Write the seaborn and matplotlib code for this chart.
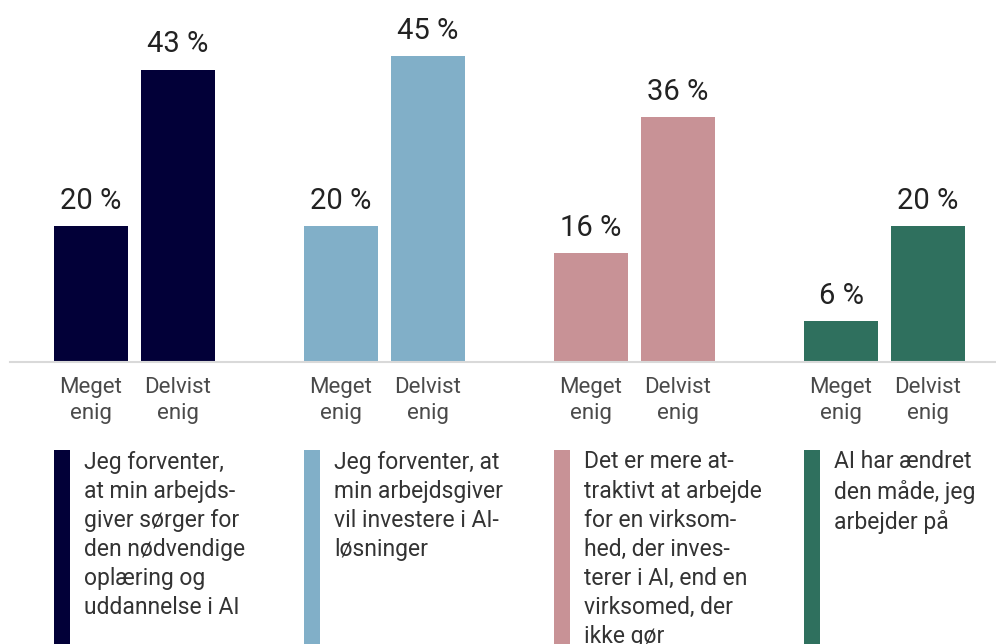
import matplotlib
matplotlib.use("Agg")
import matplotlib.pyplot as plt
from matplotlib.patches import Rectangle
import seaborn as sns
import pandas as pd

# ---- data ----
statements = [
    "Jeg forventer,\nat min arbejds-\ngiver sørger for\nden nødvendige\noplæring og\nuddannelse i AI",
    "Jeg forventer, at\nmin arbejdsgiver\nvil investere i AI-\nløsninger",
    "Det er mere at-\ntraktivt at arbejde\nfor en virksom-\nhed, der inves-\nterer i AI, end en\nvirksomed, der\nikke gør",
    "AI har ændret\nden måde, jeg\narbejder på",
]
answers = ["Meget\nenig", "Delvist\nenig"]
meget_enig = [20, 20, 16, 6]
delvist_enig = [43, 45, 36, 20]
colors = ["#020038", "#81AFC8", "#C89296", "#2F705E"]

groups = [f"G{i+1}" for i in range(len(statements))]
df = pd.DataFrame({
    "group": groups * 2,
    "answer": [answers[0]] * 4 + [answers[1]] * 4,
    "value": meget_enig + delvist_enig,
})

sns.set_theme(style="white")
plt.rcParams["font.family"] = ["Roboto", "DejaVu Sans"]

W, H = 996, 644
fig = plt.figure(figsize=(W / 100, H / 100), dpi=100)
ax = fig.add_axes([10 / W, (H - 362) / H, 986 / W, 340 / H])

sns.barplot(data=df, x="group", y="value", hue="answer", order=groups,
            hue_order=answers, width=0.696, gap=0.149, saturation=1,
            legend=False, ax=ax, errorbar=None)

ax.set_xlim(-0.498, 3.446)
ax.set_ylim(0, 50)

ticks, labels = [], []
meget_left = {}
for i, p in enumerate(ax.patches):
    c = p.get_x() + p.get_width() / 2
    gi = int(round(c))
    p.set_facecolor(colors[gi])
    p.set_edgecolor("none")
    h = p.get_height()
    ax.annotate(f"{h:.0f} %", (c, h), xytext=(0, 8), textcoords="offset points",
                ha="center", va="bottom", fontsize=21, color="#222222")
    ticks.append(c)
    labels.append(answers[0] if c < gi else answers[1])
    if c < gi:
        meget_left[gi] = p.get_x()

ax.set_xticks(ticks)
ax.set_xticklabels(labels, fontsize=16, color="#4a4a4a", linespacing=1.36)
ax.tick_params(axis="x", length=0, pad=10.5)
ax.set_yticks([])
ax.set_xlabel("")
ax.set_ylabel("")
for s in ["top", "right", "left"]:
    ax.spines[s].set_visible(False)
ax.spines["bottom"].set_color("#d9d9d9")
ax.spines["bottom"].set_linewidth(1.5)

# ---- statement blocks below ----
inv = fig.transFigure.inverted()
for gi, txt in enumerate(statements):
    xpix = ax.transData.transform((meget_left[gi], 0))[0] + 0.5
    x0 = inv.transform((xpix, 0))[0]
    fig.patches.append(Rectangle((x0, 0), 15.5 / W, (H - 450) / H,
                                 transform=fig.transFigure, facecolor=colors[gi],
                                 edgecolor="none"))
    fig.text(x0 + 30 / W, (H - 450.5) / H, txt, ha="left", va="top",
             fontsize=16.5, color="#333333", linespacing=1.34)

fig.savefig("out.png", dpi=100, facecolor="white")
